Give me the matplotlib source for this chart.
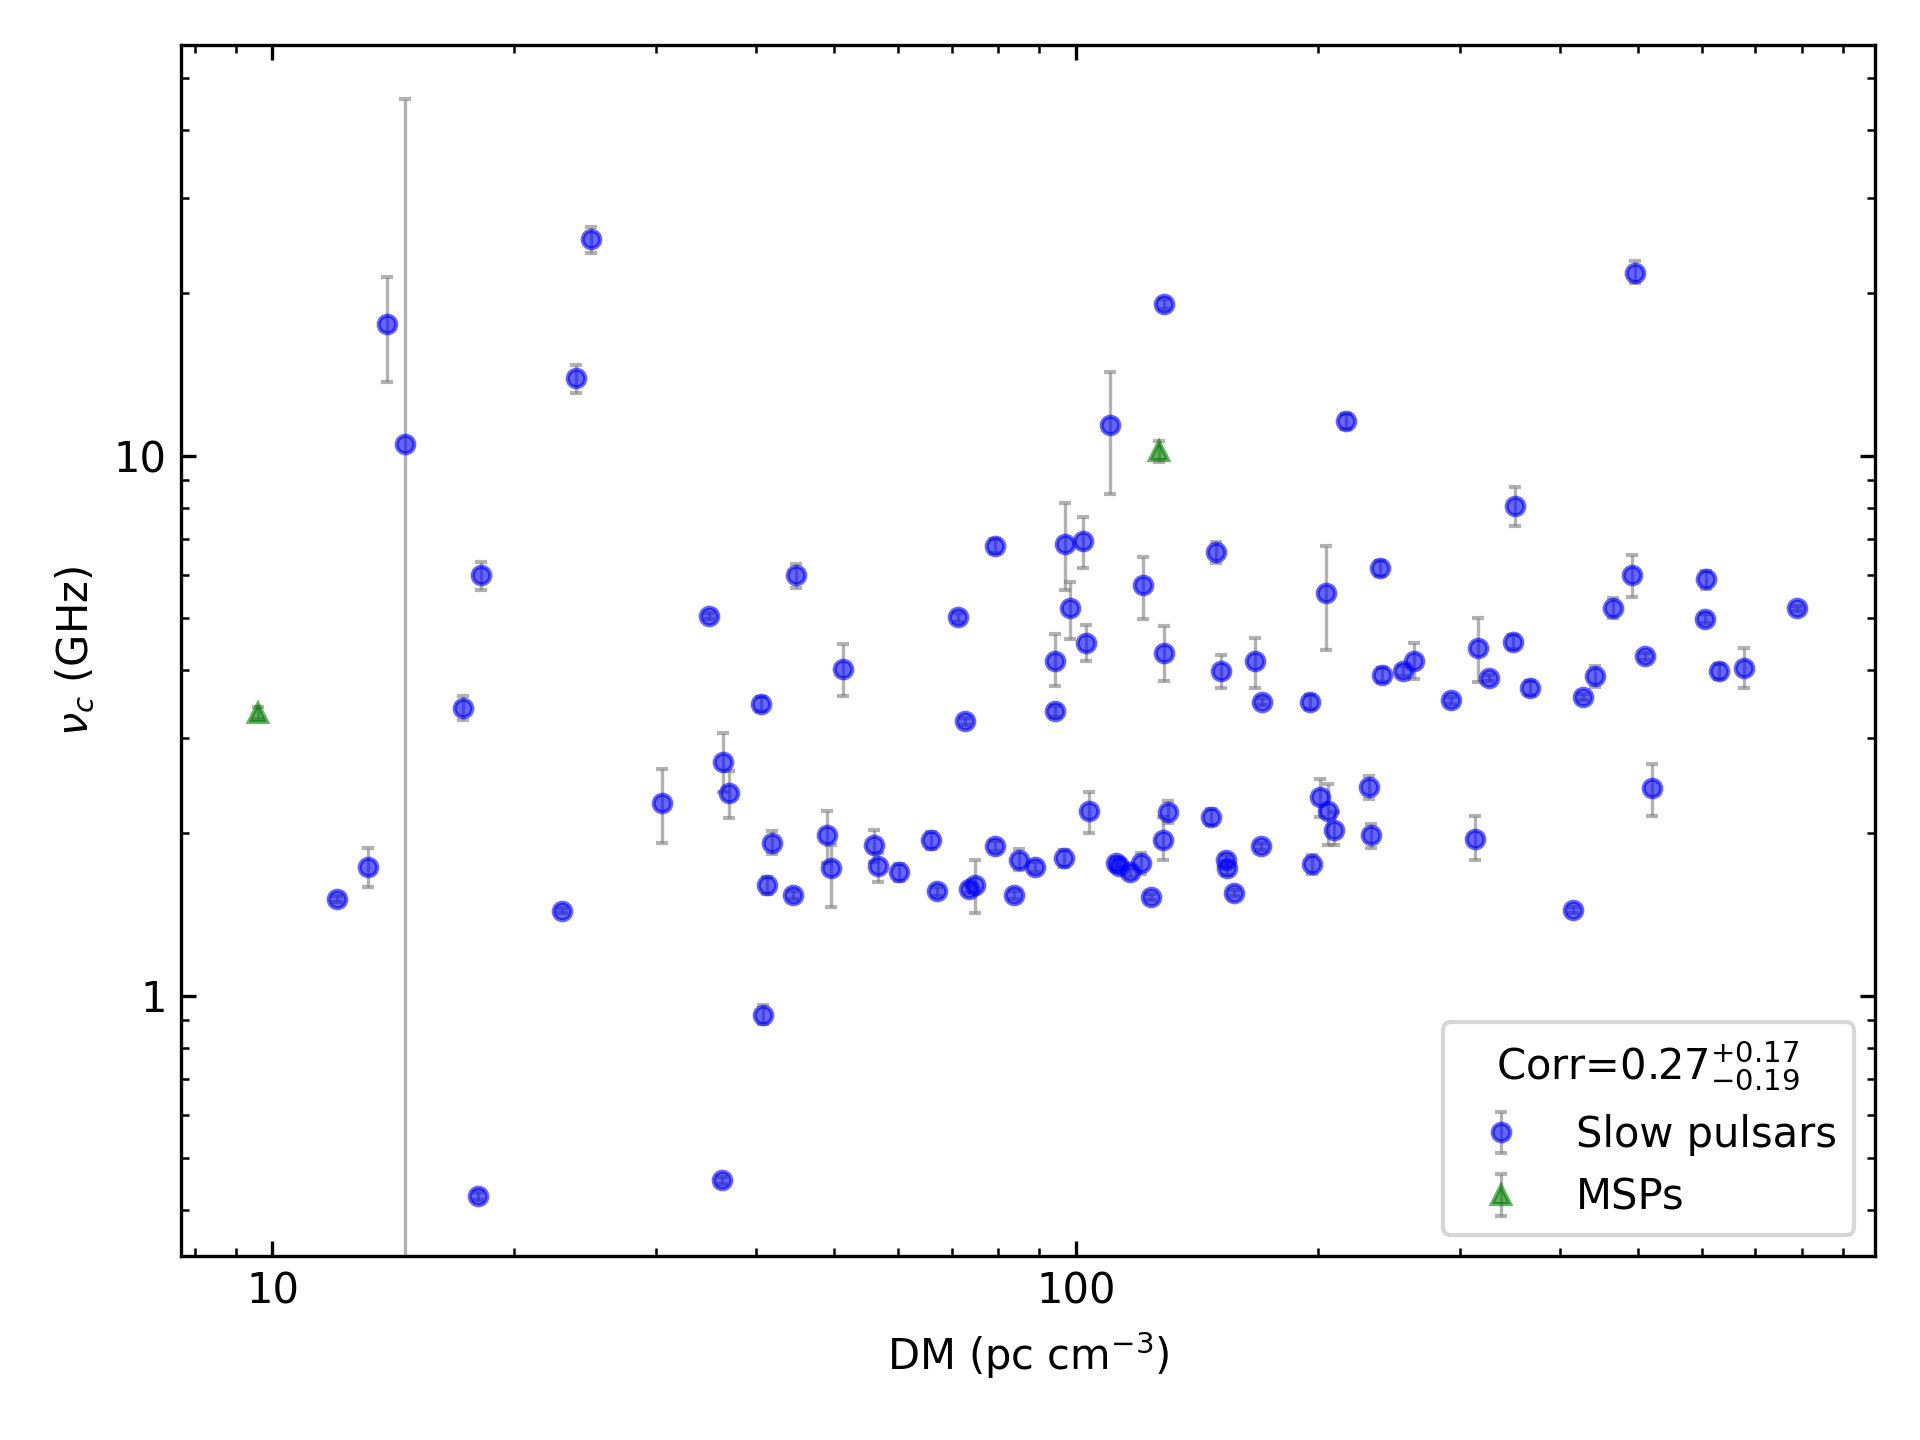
import matplotlib.pyplot as plt
import numpy as np
from matplotlib.ticker import FormatStrFormatter, NullFormatter

# slow pulsars: DM, peak frequency, lower / upper end of the error bar
dm_slow = [12.04, 13.14, 13.9, 14.6, 17.28, 18.15, 18.0, 22.95, 23.85, 24.9,
           30.5, 34.9, 36.2, 36.4, 36.96, 40.5, 40.8, 41.2, 41.8, 44.4,
           44.8, 48.9, 49.6, 51.2, 56.1, 56.7, 60.2, 65.9, 67.1, 71.2,
           72.7, 73.5, 74.8, 79.3, 79.3, 83.6, 84.8, 88.8, 94.2, 94.2,
           96.6, 96.9, 98.3, 102.1, 102.8, 103.6, 110.3, 112.2, 112.9, 116.7,
           120.4, 121.2, 123.8, 128.2, 128.7, 128.7, 130.1, 147.1, 149.1, 151.2,
           153.4, 154.0, 157.1, 166.8, 169.8, 170.2, 195.3, 196.7, 200.9, 204.4,
           205.9, 209.5, 216.9, 231.1, 232.7, 238.5, 240.2, 255.0, 263.0, 292.3,
           313.5, 315.7, 325.9, 349.4, 351.9, 367.0, 415.0, 426.7, 441.9, 465.8,
           491.0, 496.0, 510.0, 521.0, 606.0, 608.0, 630.0, 678.0, 788.0]
nu_slow = [1.51, 1.73, 17.5, 10.5, 3.41, 6.0, 0.425, 1.434, 13.9, 25.2,
           2.27, 5.05, 0.455, 2.71, 2.37, 3.47, 0.92, 1.6, 1.92, 1.535,
           6.0, 1.98, 1.72, 4.03, 1.9, 1.74, 1.69, 1.94, 1.56, 5.02,
           3.22, 1.575, 1.6, 6.8, 1.89, 1.535, 1.785, 1.73, 4.16, 3.36,
           1.795, 6.87, 5.21, 6.94, 4.5, 2.2, 11.4, 1.76, 1.74, 1.69,
           1.76, 5.75, 1.52, 1.94, 4.31, 19.1, 2.19, 2.14, 6.62, 3.99,
           1.78, 1.72, 1.55, 4.16, 1.89, 3.5, 3.5, 1.75, 2.33, 5.57,
           2.2, 2.03, 11.57, 2.43, 1.98, 6.18, 3.93, 3.99, 4.16, 3.52,
           1.95, 4.4, 3.87, 4.52, 8.07, 3.71, 1.44, 3.57, 3.9, 5.23,
           6.0, 21.8, 4.25, 2.42, 4.99, 5.9, 3.99, 4.05, 5.21]
lo_slow = [1.49, 1.59, 13.7, -24.7, 3.24, 5.63, 0.418, 1.42, 13.05, 23.7,
           1.92, 4.98, 0.448, 2.38, 2.13, 3.37, 0.887, 1.54, 1.83, 1.51,
           5.69, 1.76, 1.46, 3.59, 1.77, 1.62, 1.63, 1.87, 1.53, 4.92,
           3.17, 1.55, 1.42, 6.6, 1.85, 1.51, 1.71, 1.69, 3.75, 3.28,
           1.73, 5.63, 4.57, 6.18, 4.16, 2.0, 8.5, 1.72, 1.70, 1.66,
           1.68, 4.99, 1.50, 1.78, 3.83, 18.7, 2.09, 2.07, 6.32, 3.71,
           1.74, 1.67, 1.53, 3.71, 1.86, 3.45, 3.4, 1.68, 2.14, 4.36,
           1.9, 1.9, 11.2, 2.31, 1.88, 5.98, 3.8, 3.9, 3.86, 3.47,
           1.78, 3.81, 3.82, 4.38, 7.39, 3.6, 1.42, 3.52, 3.72, 5.0,
           5.46, 20.9, 4.19, 2.15, 4.9, 5.66, 3.86, 3.71, 5.15]
hi_slow = [1.53, 1.88, 21.4, 45.7, 3.59, 6.35, 0.432, 1.45, 14.7, 26.5,
           2.63, 5.12, 0.462, 3.07, 2.6, 3.57, 0.96, 1.66, 2.02, 1.56,
           6.29, 2.2, 1.9, 4.48, 2.03, 1.84, 1.75, 2.01, 1.59, 5.12,
           3.27, 1.60, 1.78, 7.0, 1.93, 1.56, 1.87, 1.77, 4.67, 3.44,
           1.86, 8.16, 5.84, 7.7, 4.86, 2.38, 14.26, 1.80, 1.78, 1.72,
           1.84, 6.48, 1.54, 2.14, 4.84, 19.5, 2.29, 2.22, 6.92, 4.27,
           1.82, 1.77, 1.57, 4.59, 1.92, 3.55, 3.6, 1.82, 2.52, 6.8,
           2.47, 2.19, 11.95, 2.55, 2.08, 6.38, 4.05, 4.08, 4.5, 3.57,
           2.15, 5.0, 3.92, 4.66, 8.73, 3.82, 1.46, 3.62, 4.08, 5.45,
           6.55, 22.9, 4.31, 2.68, 5.08, 6.12, 4.12, 4.4, 5.27]

# MSPs
dm_msp = [9.59, 126.9]
nu_msp = [3.34, 10.2]
lo_msp = [3.25, 9.74]
hi_msp = [3.43, 10.65]

corr_text = r'Corr=$0.27^{+0.17}_{-0.19}$'

nu_slow = np.array(nu_slow)
nu_msp = np.array(nu_msp)
err_slow = [nu_slow - np.array(lo_slow), np.array(hi_slow) - nu_slow]
err_msp = [nu_msp - np.array(lo_msp), np.array(hi_msp) - nu_msp]

fig, ax = plt.subplots(figsize=(6.4, 4.8), dpi=300)
fig.subplots_adjust(left=0.0944, right=0.9764, top=0.9685, bottom=0.1276)

ax.errorbar(dm_slow, nu_slow, yerr=err_slow, fmt='o', color='blue', ecolor='gray',
            alpha=0.6, markersize=4.2, capsize=1.5, elinewidth=0.8,
            label='Slow pulsars')
ax.errorbar(dm_msp, nu_msp, yerr=err_msp, fmt='^', color='green', ecolor='gray',
            alpha=0.6, markersize=4.2, capsize=1.5, elinewidth=0.8,
            label='MSPs')

ax.set_xscale('log')
ax.set_yscale('log')
ax.set_xlim(7.7, 985)
ax.set_ylim(0.329, 57.5)

for axis in (ax.xaxis, ax.yaxis):
    axis.set_major_formatter(FormatStrFormatter('%g'))
    axis.set_minor_formatter(NullFormatter())
ax.tick_params(which='both', direction='in', top=True, right=True)

ax.set_xlabel(r'DM (pc cm$^{-3}$)')
ax.set_ylabel(r'$\nu_c$ (GHz)')

ax.legend(loc='lower right', title=corr_text, fontsize=10, title_fontsize=10)

plt.savefig('out.png', dpi=300)
